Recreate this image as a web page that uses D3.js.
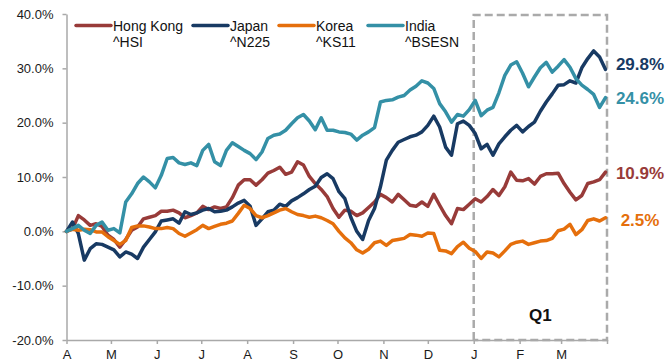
<!DOCTYPE html>
<html>
<head>
<meta charset="utf-8">
<script src="https://cdn.jsdelivr.net/npm/d3@7"></script>
<style>
  body { margin: 0; background: #fff; }
  svg { display: block; font-family: "Liberation Sans", Arial, sans-serif; }
</style>
</head>
<body>
<svg id="chart" width="671" height="363"></svg>
<script>
// Cumulative return since 1 Apr 2014 (%), sampled every four days.
const dates = [
  "2014-04-01","2014-04-05","2014-04-09","2014-04-13","2014-04-17","2014-04-21","2014-04-25","2014-04-29",
  "2014-05-03","2014-05-07","2014-05-11","2014-05-15","2014-05-19","2014-05-23","2014-05-27","2014-05-31",
  "2014-06-04","2014-06-08","2014-06-12","2014-06-16","2014-06-20","2014-06-24","2014-06-28",
  "2014-07-02","2014-07-06","2014-07-10","2014-07-14","2014-07-18","2014-07-22","2014-07-26","2014-07-30",
  "2014-08-03","2014-08-07","2014-08-11","2014-08-15","2014-08-19","2014-08-23","2014-08-27","2014-08-31",
  "2014-09-04","2014-09-08","2014-09-12","2014-09-16","2014-09-20","2014-09-24","2014-09-28",
  "2014-10-02","2014-10-06","2014-10-10","2014-10-14","2014-10-18","2014-10-22","2014-10-26","2014-10-30",
  "2014-11-03","2014-11-07","2014-11-11","2014-11-15","2014-11-19","2014-11-23","2014-11-27",
  "2014-12-01","2014-12-05","2014-12-09","2014-12-13","2014-12-17","2014-12-21","2014-12-25","2014-12-29",
  "2015-01-02","2015-01-06","2015-01-10","2015-01-14","2015-01-18","2015-01-22","2015-01-26","2015-01-30",
  "2015-02-03","2015-02-07","2015-02-11","2015-02-15","2015-02-19","2015-02-23","2015-02-27",
  "2015-03-03","2015-03-07","2015-03-11","2015-03-15","2015-03-19","2015-03-23","2015-03-27","2015-03-31"
];

const hongKong = [
  0, 0.4, 2.9, 2.1, 1.1, 1.4, 0.9, -0.7,
  -1.5, -2.9, -1.5, 0.2, 0.8, 2.3, 2.6, 2.9,
  3.7, 3.7, 3.9, 3.4, 2.5, 2.9, 3.4,
  4.6, 4.0, 4.5, 4.2, 4.5, 6.2, 8.5, 9.5,
  9.5, 8.5, 9.5, 10.7, 11.2, 11.8, 10.5, 10.9,
  12.8, 12.2, 10.1, 8.8, 7.7, 6.4, 4.2,
  2.6, 3.9, 3.7, 2.9, 3.4, 4.4, 5.4, 6.8,
  6.2, 5.4, 6.8, 5.8, 4.8, 4.6, 5.4,
  4.6, 6.8, 4.8, 2.9, 1.4, 4.2, 4.0, 5.0,
  6.0, 5.4, 6.4, 7.7, 6.6, 8.2, 10.9, 9.4,
  9.3, 9.7, 8.7, 10.1, 10.6, 10.6, 10.7,
  8.8, 7.2, 5.8, 6.6, 8.8, 9.1, 9.5, 10.9
];

const japan = [
  0, 1.7, -0.4, -5.3, -3.2, -2.3, -2.4, -2.9,
  -3.4, -4.7, -3.8, -4.2, -5.0, -2.9, -1.5, -0.1,
  1.9, 2.1, 2.3, 1.5, 3.6, 3.1, 3.4,
  3.9, 4.2, 3.6, 3.7, 3.9, 4.5, 5.2, 5.7,
  4.6, 1.1, 2.3, 3.6, 3.9, 5.0, 4.6, 5.6,
  6.2, 6.9, 7.7, 8.3, 9.9, 10.6, 9.7,
  7.3, 6.0, 2.6, 0.0, -1.5, 2.0, 4.2, 8.2,
  13.1, 14.9, 16.4, 16.9, 17.4, 17.7, 18.3,
  19.5, 21.2, 19.2, 15.5, 14.0, 19.8, 20.3, 19.5,
  18.0, 15.2, 16.0, 14.0, 16.1, 17.4, 18.6, 19.5,
  18.3, 19.3, 20.1, 22.1, 23.8, 25.3, 26.9,
  27.0, 27.7, 27.3, 30.1, 31.8, 33.2, 32.1, 29.8
];

const korea = [
  0, 0.4, 0.2, 0.4, 0.3, -0.1, -0.1, -1.0,
  -1.7, -2.4, -1.7, 0.7, 1.0, 1.0, 0.8, 0.5,
  0.5, 0.7, 0.5, -0.4, -0.9, -0.3, 0.3,
  1.1, 0.5, 0.9, 1.3, 1.5, 1.9, 3.3, 4.8,
  4.2, 2.9, 2.5, 2.9, 3.4, 3.9, 4.2, 3.6,
  3.1, 2.9, 2.6, 2.8, 2.5, 2.0, 1.4,
  0.0, -1.2, -2.1, -3.4, -4.0, -3.3, -2.1, -1.8,
  -2.6, -1.7, -1.5, -1.3, -0.6, -0.7, -0.9,
  -0.3, -0.4, -3.5, -3.6, -4.1, -2.8, -2.0, -3.1,
  -3.7, -5.0, -3.8, -4.0, -4.7, -3.6, -2.4, -2.0,
  -1.8, -2.4, -2.1, -1.8, -1.7, -1.3, 0.1,
  0.4, 1.3, -0.6, 0.3, 2.0, 2.3, 1.9, 2.5
];

const india = [
  0, 0.5, 1.1, 0.2, -0.4, 1.1, 1.7, 0.2,
  0.5, -0.3, 5.4, 6.9, 8.8, 10.0, 9.1, 8.0,
  10.3, 13.4, 13.6, 12.6, 12.3, 12.6, 12.1,
  14.9, 16.0, 12.8, 12.1, 14.9, 16.3, 15.6, 14.9,
  14.3, 13.2, 14.6, 17.1, 17.7, 17.9, 18.6, 19.8,
  20.9, 21.5, 20.3, 18.7, 20.9, 18.6, 18.6,
  18.3, 18.2, 17.9, 16.8, 17.7, 18.3, 19.1, 23.8,
  24.1, 24.2, 24.7, 25.0, 26.0, 26.7, 27.7,
  27.3, 26.3, 23.5, 22.0, 20.1, 21.5, 21.2, 22.4,
  24.1, 21.3, 22.3, 22.8, 25.5, 28.7, 30.6, 31.2,
  29.1, 26.6, 28.4, 30.1, 31.1, 29.3, 30.4,
  31.6, 30.2, 28.1, 26.9, 26.1, 25.2, 22.8, 24.6
];

const seriesNames   = ["Hong Kong", "Japan", "Korea", "India"];
const seriesTickers = ["^HSI", "^N225", "^KS11", "^BSESN"];
const seriesColors  = ["#983b39", "#183a63", "#e56f0c", "#3490a6"];

const monthLabels = ["A", "M", "J", "J", "A", "S", "O", "N", "D", "J", "F", "M", ""];
const yTicks = [-20, -10, 0, 10, 20, 30, 40];
const periodStart = "2014-04-01";
const periodEnd = "2015-04-01";
const quarterStart = "2015-01-01";
const quarterLabel = "Q1";

// ---- drawing ----
const parse = d3.timeParse("%Y-%m-%d");
const svg = d3.select("#chart");
const axisGrey = "#a9a9a9";

const x = d3.scaleTime()
  .domain([parse(periodStart), parse(periodEnd)])
  .range([66.5, 607]);
const y = d3.scaleLinear()
  .domain([-20, 40])
  .range([340, 14]);

const series = [hongKong, japan, korea, india].map((vals, i) => ({
  name: seriesNames[i],
  ticker: seriesTickers[i],
  color: seriesColors[i],
  points: vals.map((v, j) => ({ date: parse(dates[j]), value: v }))
}));

// Q1 dashed frame
const qx0 = x(parse(quarterStart)), qx1 = x(parse(periodEnd));
const qy0 = y(40) + 1, qy1 = y(-20);
svg.append("path")
  .attr("d", `M${qx0},${qy1}V${qy0}H${qx1}V${qy1}H${qx0}`)
  .attr("fill", "none")
  .attr("stroke", "#aaaaaa")
  .attr("stroke-width", 2.5)
  .attr("stroke-dasharray", "8,4");

svg.append("text")
  .attr("x", (qx0 + qx1) / 2)
  .attr("y", 321)
  .attr("text-anchor", "middle")
  .attr("font-size", 17)
  .attr("font-weight", "bold")
  .attr("fill", "#111")
  .text(quarterLabel);

// axes
const yAxis = d3.axisLeft(y)
  .tickValues(yTicks)
  .tickFormat(d => d.toFixed(1) + "%")
  .tickSize(4)
  .tickSizeOuter(0)
  .tickPadding(9);
const gy = svg.append("g")
  .attr("transform", `translate(${x.range()[0]},0)`)
  .call(yAxis);

const monthTicks = d3.timeMonth.range(parse(periodStart), d3.timeDay.offset(parse(periodEnd), 1));
const xAxis = d3.axisBottom(x)
  .tickValues(monthTicks)
  .tickFormat((d, i) => monthLabels[i])
  .tickSize(4)
  .tickSizeOuter(0)
  .tickPadding(6);
const gx = svg.append("g")
  .attr("transform", `translate(0,${y(-20)})`)
  .call(xAxis);

[gx, gy].forEach(g => {
  g.select(".domain").attr("stroke", axisGrey).attr("stroke-width", 1.5);
  g.selectAll(".tick line").attr("stroke", axisGrey).attr("stroke-width", 1.5);
  g.selectAll(".tick text")
    .attr("fill", "#1a1a1a")
    .attr("font-size", 13)
    .attr("font-family", '"Liberation Sans", Arial, sans-serif');
});

// series lines
const line = d3.line()
  .x(d => x(d.date))
  .y(d => y(d.value));

svg.append("g").selectAll("path")
  .data(series)
  .join("path")
  .attr("d", d => line(d.points))
  .attr("fill", "none")
  .attr("stroke", d => d.color)
  .attr("stroke-width", 3.5)
  .attr("stroke-linejoin", "round")
  .attr("stroke-linecap", "round");

// end-value labels
const labelNudge = [1, -5, 2, 0];
svg.append("g").selectAll("text")
  .data(series)
  .join("text")
  .attr("x", 640)
  .attr("y", (d, i) => y(d.points[d.points.length - 1].value) + labelNudge[i] + 6)
  .attr("text-anchor", "middle")
  .attr("font-size", 17)
  .attr("font-weight", "bold")
  .attr("fill", d => d.color)
  .text(d => d.points[d.points.length - 1].value.toFixed(1) + "%");

// legend
const legendX = [76, 193, 279, 368];
const legend = svg.append("g").selectAll("g")
  .data(series)
  .join("g")
  .attr("transform", (d, i) => `translate(${legendX[i]},0)`);
legend.append("line")
  .attr("x1", 0).attr("x2", 35)
  .attr("y1", 25.5).attr("y2", 25.5)
  .attr("stroke", d => d.color)
  .attr("stroke-width", 3.5)
  .attr("stroke-linecap", "round");
legend.append("text")
  .attr("x", 37).attr("y", 31)
  .attr("font-size", 14)
  .attr("fill", "#111")
  .text(d => d.name);
legend.append("text")
  .attr("x", 37).attr("y", 47)
  .attr("font-size", 14)
  .attr("fill", "#111")
  .text(d => d.ticker);
</script>
</body>
</html>
